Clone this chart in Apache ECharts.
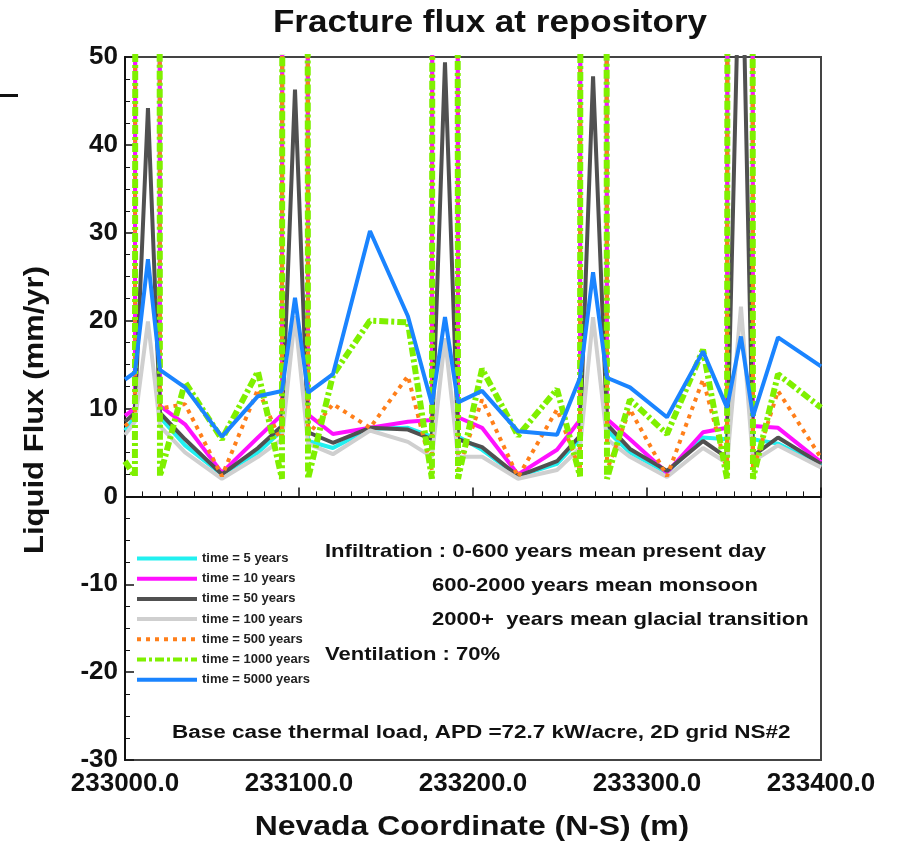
<!DOCTYPE html>
<html><head><meta charset="utf-8">
<script src="https://cdn.jsdelivr.net/npm/echarts@6/dist/echarts.min.js"></script>
<style>html,body{margin:0;padding:0;background:#fff}#c{width:897px;height:842px}</style>
</head><body><div id="c"></div>
<script>
// Nevada coordinate (m) of the grid nodes
const xCoords = [233000, 233005.7, 233013.2, 233020.1, 233034.5, 233055.7, 233076.4, 233090.2, 233097.7, 233105.2, 233119.5, 233140.8, 233162.6, 233176.4, 233183.9, 233191.4, 233205.2, 233225.9, 233248.3, 233261.5, 233269.0, 233277.0, 233290.2, 233311.5, 233332.2, 233346.0, 233354.0, 233360.9, 233375.3, 233400];
const seriesNames = ["time = 5 years","time = 10 years","time = 50 years","time = 100 years","time = 500 years","time = 1000 years","time = 5000 years"];
const t5    = [7.5, 9, 2000, 9, 5.8, 2.5, 5, 7.5, 2000, 6.3, 5.5, 7.7, 7.8, 6.8, 2000, 6.8, 5.3, 2.3, 3.7, 6.5, 2000, 7.5, 5, 2.7, 6.7, 6.5, 2000, 6.5, 6.0, 3.5];
const t10   = [9.2, 10, 2000, 10.3, 8.2, 2.7, 6.7, 9.3, 2000, 9.3, 7.1, 7.8, 8.5, 8.7, 2000, 9, 7.8, 2.5, 5.3, 8.7, 2000, 8.8, 6.5, 2.7, 7.3, 7.8, 2000, 8.0, 7.8, 3.9];
const t50   = [8.5, 9.5, 44.2, 9.5, 6.5, 2.5, 5.5, 8, 46.3, 7.3, 6.1, 7.8, 7.6, 6.5, 49.4, 6.5, 5.6, 2.3, 4.0, 6.9, 47.8, 8.2, 5.4, 2.9, 6.3, 4.4, 70, 4.6, 6.7, 3.7];
const t100  = [7, 8.5, 19.9, 8, 5, 2, 4.5, 6.5, 20.5, 6, 4.8, 7.5, 6.2, 4.5, 18, 4.5, 4.5, 2, 3, 5.5, 20.4, 6.5, 4.5, 2.2, 5.5, 3.8, 21.6, 4, 5.8, 3.3];
const t500  = [8, 9, 2000, 10, 10.5, 2.3, 12.2, 6, 2000, 7, 10.5, 7.8, 13.7, 3, 2000, 3, 11, 2.2, 9.9, 3, 2000, 3, 9.9, 2.3, 13.3, 3, 2000, 3, 12, 4.4];
const t1000 = [4, 2.3, 2000, 2.3, 13, 6.5, 14.2, 2, 2000, 2, 13.8, 20, 19.8, 2, 2000, 2, 14.5, 6.9, 12.2, 2.3, 2000, 2, 11, 7.1, 16.7, 2, 2000, 2, 13.9, 10.1];
const t5000 = [13.3, 14.1, 27, 14.4, 12.4, 6.8, 11.4, 12, 22.6, 11.8, 13.9, 30.2, 20.5, 10.5, 20.4, 10.7, 12, 7.4, 7.0, 13.5, 25.5, 13.5, 12.4, 9.0, 16.5, 10.1, 18.2, 9.1, 18.1, 14.8];
const yTicks = [-30, -20, -10, 0, 10, 20, 30, 40, 50];
const xTicks = [233000, 233100, 233200, 233300, 233400];

const allVals = [t5, t10, t50, t100, t500, t1000, t5000];
const colors = ['#22f0f0', '#ff10ff', '#505050', '#cfcfcf', '#ff7f1a', '#7ff000', '#1a84ff'];
const dashes = ['solid','solid','solid','solid',[4,5],[9,3,3,3],'solid'];
const widths = [4,4,4,4,4,6,4];
const FONT = 'Liberation Sans, Arial, Helvetica, sans-serif';

const series = allVals.map((vals, i) => ({
  name: seriesNames[i], type: 'line', symbol: 'none', showSymbol: false,
  data: xCoords.map((x, j) => [x, vals[j]]),
  lineStyle: {color: colors[i], width: widths[i], type: dashes[i], cap: 'butt'},
  itemStyle: {color: colors[i]},
  clip: true, animation: false, z: 2 + i
}));

function txt(text, x, y, size, sx, extra) {
  return Object.assign({type: 'text', x: x, y: y, scaleX: sx, z: 20,
    style: {text: text, font: 'bold ' + size + 'px ' + FONT, fill: '#111', textAlign: 'left', textVerticalAlign: 'middle'}}, extra || {});
}

const chart = echarts.init(document.getElementById('c'), null, {renderer: 'canvas'});
chart.setOption({
  backgroundColor: '#fff',
  animation: false,
  grid: {left: 125, right: 76, top: 57, bottom: 82, show: true, borderColor: '#444', borderWidth: 2, backgroundColor: 'transparent'},
  legend: {orient: 'vertical', left: 130, top: 547, itemWidth: 60, itemHeight: 14, itemGap: 7.2,
    data: seriesNames, selectedMode: false, itemStyle: {opacity: 0}, lineStyle: {width: 4},
    textStyle: {fontFamily: FONT, fontWeight: 'bold', fontSize: 13, color: '#222'}},
  xAxis: {type: 'value', min: xTicks[0], max: xTicks[xTicks.length-1], interval: 100,
    axisLine: {lineStyle: {color: '#111', width: 2}},
    axisTick: {inside: true, length: 9, lineStyle: {color: '#111', width: 1.5}},
    minorTick: {show: true, splitNumber: 10, length: 5, lineStyle: {color: '#111', width: 1}},
    splitLine: {show: false},
    axisLabel: {fontFamily: FONT, fontWeight: 'bold', fontSize: 26, color: '#111', margin: 11,
      formatter: v => v.toFixed(1)}},
  yAxis: {type: 'value', min: yTicks[0], max: yTicks[yTicks.length-1], interval: 10,
    axisLine: {lineStyle: {color: '#111', width: 2}},
    axisTick: {inside: true, length: 9, lineStyle: {color: '#111', width: 1.5}},
    minorTick: {show: true, splitNumber: 4, length: 5, lineStyle: {color: '#111', width: 1}},
    splitLine: {show: false},
    axisLabel: {fontFamily: FONT, fontWeight: 'bold', fontSize: 26, color: '#111', margin: 7}},
  graphic: [
    {type: 'rect', left: 0, top: 94, shape: {width: 18, height: 3}, style: {fill: '#111'}},
    txt('Fracture flux at repository', 490, 23, 31, 1.13, {style: {text: 'Fracture flux at repository', font: 'bold 31px ' + FONT, fill: '#111', textAlign: 'center', textVerticalAlign: 'middle'}}),
    txt('Nevada Coordinate (N-S) (m)', 472, 827, 28, 1.14, {style: {text: 'Nevada Coordinate (N-S) (m)', font: 'bold 28px ' + FONT, fill: '#111', textAlign: 'center', textVerticalAlign: 'middle'}}),
    txt('Liquid Flux (mm/yr)', 36, 410, 27, 1.15, {rotation: Math.PI / 2, style: {text: 'Liquid Flux (mm/yr)', font: 'bold 27px ' + FONT, fill: '#111', textAlign: 'center', textVerticalAlign: 'middle'}}),
    txt('Infiltration : 0-600 years mean present day', 325, 552, 19, 1.16),
    txt('600-2000 years mean monsoon', 432, 586, 19, 1.16),
    txt('2000+  years mean glacial transition', 432, 620, 19, 1.16),
    txt('Ventilation : 70%', 325, 655, 19, 1.16),
    txt('Base case thermal load, APD =72.7 kW/acre, 2D grid NS#2', 172, 733, 18, 1.25)
  ],
  series: series
});
</script></body></html>
